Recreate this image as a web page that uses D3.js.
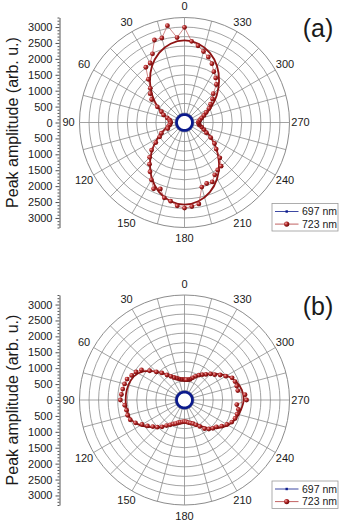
<!DOCTYPE html>
<html>
<head>
<meta charset="utf-8">
<script src="https://cdn.jsdelivr.net/npm/d3@7"></script>
<style>
  body { margin: 0; background: #fff; }
  text { font-family: "Liberation Sans", Arial, sans-serif; fill: #1a1a1a; }
</style>
</head>
<body>
<div id="chart"></div>
<script>
// measurement angles (deg, counter-clockwise from top)
var angles = [0, 5, 10, 15, 20, 25, 30, 35, 40, 45, 50, 55, 60, 65, 70, 75, 80, 85,
  90, 95, 100, 105, 110, 115, 120, 125, 130, 135, 140, 145, 150, 155, 160, 165, 170, 175,
  180, 185, 190, 195, 200, 205, 210, 215, 220, 225, 230, 235, 240, 245, 250, 255, 260, 265,
  270, 275, 280, 285, 290, 295, 300, 305, 310, 315, 320, 325, 330, 335, 340, 345, 350, 355];

// fit curve angles
var fitAngles = [0, 10, 20, 30, 40, 50, 60, 70, 80, 90, 100, 110, 120, 130, 140, 150, 160, 170,
  180, 190, 200, 210, 220, 230, 240, 250, 260, 270, 280, 290, 300, 310, 320, 330, 340, 350];

// (a) 723 nm peak amplitude
var amp723a = [2990, 2680, 3090, 2750, 2760, 2380, 2160, 2120, 1770, 1520, 1410, 1260, 985, 800, 700, 560, 480, 450,
  430, 450, 480, 540, 560, 800, 900, 1100, 1350, 1550, 1710, 1890, 2080, 2300, 2220, 2450, 2510, 2630,
  2690, 2650, 2600, 2100, 2040, 2060, 1900, 1820, 1790, 1570, 1300, 1150, 950, 760, 650, 560, 480, 450,
  430, 460, 500, 560, 650, 750, 890, 1000, 1150, 1280, 1560, 1710, 1845, 2040, 2190, 2310, 2450, 2560];
var fit723a = [2580, 2515, 2330, 2045, 1690, 1320, 970, 680, 495, 430, 495, 680, 970, 1320, 1690, 2045, 2330, 2515,
  2580, 2515, 2330, 2045, 1690, 1320, 970, 680, 495, 430, 495, 680, 970, 1320, 1690, 2045, 2330, 2515];
// (a) 697 nm peak amplitude
var amp697a = [250, 250, 251, 250, 249, 250, 251, 250, 250, 249, 250, 250, 251, 250, 250, 249, 250, 250,
  250, 251, 250, 250, 249, 250, 250, 251, 250, 250, 250, 249, 250, 251, 250, 250, 250, 249,
  250, 250, 251, 250, 250, 249, 250, 250, 251, 250, 250, 250, 249, 250, 251, 250, 250, 250,
  250, 249, 250, 251, 250, 250, 250, 249, 250, 250, 251, 250, 250, 249, 250, 250, 251, 250];

// (b) 723 nm peak amplitude
var amp723b = [640, 650, 660, 690, 730, 780, 860, 960, 1110, 1250, 1430, 1650, 1760, 1830, 1920, 1950, 1970, 1990,
  2015, 1885, 1850, 1850, 1815, 1700, 1540, 1420, 1300, 1210, 1100, 980, 900, 830, 790, 740, 710, 690,
  680, 690, 720, 750, 790, 860, 960, 1100, 1190, 1260, 1310, 1430, 1540, 1640, 1690, 1710, 1720, 1650,
  1950, 1910, 1700, 1700, 1690, 1650, 1500, 1370, 1240, 1160, 1050, 970, 900, 820, 740, 670, 650, 640];
var fit723b = [640, 670, 740, 880, 1100, 1420, 1680, 1800, 1840, 1850, 1840, 1790, 1600, 1330, 1100, 900, 770, 700,
  680, 700, 780, 930, 1150, 1370, 1580, 1720, 1800, 1860, 1830, 1720, 1530, 1280, 1060, 880, 750, 670];
// (b) 697 nm peak amplitude
var amp697b = amp697a.slice();

// grid / axis values
var ringValues = [300, 600, 900, 1200, 1500, 1800, 2100, 2400, 2700, 3000, 3300];
var spokeAngles = [0, 15, 30, 45, 60, 75, 90, 105, 120, 135, 150, 165, 180, 195, 210, 225, 240, 255, 270, 285, 300, 315, 330, 345];
var angleLabels = [0, 30, 60, 90, 120, 150, 180, 210, 240, 270, 300, 330];
var ampTicks = [-3000, -2500, -2000, -1500, -1000, -500, 0, 500, 1000, 1500, 2000, 2500, 3000];
var ampMinor = [-3300, -3200, -3100, -2900, -2800, -2700, -2600, -2400, -2300, -2200, -2100, -1900, -1800, -1700, -1600,
  -1400, -1300, -1200, -1100, -900, -800, -700, -600, -400, -300, -200, -100,
  100, 200, 300, 400, 600, 700, 800, 900, 1100, 1200, 1300, 1400, 1600, 1700, 1800, 1900,
  2100, 2200, 2300, 2400, 2600, 2700, 2800, 2900, 3100, 3200, 3300];
var seriesNames = ["697 nm", "723 nm"];

var width = 344, height = 522;
var cx = 184.5, R = 105, maxVal = 3300;
var darkRed = "#8e1414", navy = "#0b1a8c", gridCol = "#8c8c8c";

var svg = d3.select("#chart").append("svg")
  .attr("width", width).attr("height", height);

var defs = svg.append("defs");
var grad = defs.append("radialGradient").attr("id", "ball")
  .attr("cx", "35%").attr("cy", "35%").attr("r", "65%");
grad.append("stop").attr("offset", "0%").attr("stop-color", "#f0b0b0");
grad.append("stop").attr("offset", "45%").attr("stop-color", "#b52a2a");
grad.append("stop").attr("offset", "100%").attr("stop-color", "#6e0808");

var rScale = d3.scaleLinear().domain([0, maxVal]).range([0, R]);
var rad = d => d * Math.PI / 180;

function drawPlot(cy, a723, fit723, a697, tag) {
  var g = svg.append("g").attr("transform", `translate(${cx},${cy})`);

  // rings
  g.selectAll(".ring").data(ringValues).enter().append("circle")
    .attr("r", d => rScale(d))
    .attr("fill", "none")
    .attr("stroke", gridCol)
    .attr("stroke-width", (d, i) => i == ringValues.length - 1 ? 1 : 0.8);

  // spokes
  g.selectAll(".spoke").data(spokeAngles).enter().append("line")
    .attr("x1", 0).attr("y1", 0)
    .attr("x2", d => -rScale(maxVal) * Math.sin(rad(d)))
    .attr("y2", d => -rScale(maxVal) * Math.cos(rad(d)))
    .attr("stroke", gridCol)
    .attr("stroke-width", 0.8);

  // angle labels
  g.selectAll(".alab").data(angleLabels).enter().append("text")
    .attr("x", d => -(R + 11) * Math.sin(rad(d)))
    .attr("y", d => -(R + 11) * Math.cos(rad(d)))
    .attr("dy", "0.35em")
    .attr("text-anchor", "middle")
    .style("font-size", "11px")
    .text(d => d);

  var radial = d3.lineRadial()
    .angle(d => -rad(d[0]))
    .radius(d => rScale(d[1]));

  // fit curve
  g.append("path")
    .datum(d3.zip(fitAngles, fit723))
    .attr("d", radial.curve(d3.curveCardinalClosed))
    .attr("fill", "none")
    .attr("stroke", darkRed)
    .attr("stroke-width", 1.8);

  // data line
  var pts = d3.zip(angles, a723);
  g.append("path")
    .datum(pts)
    .attr("d", radial.curve(d3.curveLinearClosed))
    .attr("fill", "none")
    .attr("stroke", "#b23a3a")
    .attr("stroke-width", 0.6);

  g.selectAll(".dot").data(pts).enter().append("circle")
    .attr("cx", d => -rScale(d[1]) * Math.sin(rad(d[0])))
    .attr("cy", d => -rScale(d[1]) * Math.cos(rad(d[0])))
    .attr("r", 2.4)
    .attr("fill", "url(#ball)");

  // 697 nm
  g.append("path")
    .datum(d3.zip(angles, a697))
    .attr("d", radial.curve(d3.curveCardinalClosed))
    .attr("fill", "#fff")
    .attr("stroke", navy)
    .attr("stroke-width", 2.8);

  // amplitude axis on the left
  var yScale = d3.scaleLinear().domain([-maxVal, maxVal]).range([R, -R]);
  var axisX = 59.5 - cx;
  g.append("g")
    .attr("transform", `translate(${axisX},0)`)
    .call(d3.axisLeft(yScale).tickValues(ampMinor).tickSize(2).tickFormat(""))
    .call(ax => ax.select(".domain").remove())
    .selectAll("line").attr("stroke", "#555");
  var yAx = g.append("g")
    .attr("transform", `translate(${axisX},0)`)
    .call(d3.axisLeft(yScale).tickValues(ampTicks).tickSize(4).tickPadding(3)
      .tickSizeOuter(0).tickFormat(d => Math.abs(d)));
  yAx.select(".domain").attr("stroke", "#555");
  yAx.selectAll("line").attr("stroke", "#555");
  yAx.selectAll("text")
    .style("font-size", "11px")
    .style("font-family", '"Liberation Sans", Arial, sans-serif')
    .attr("fill", "#1a1a1a");

  g.append("text")
    .attr("transform", `translate(${12.5 - cx},0) rotate(-90)`)
    .attr("text-anchor", "middle")
    .attr("dy", "0.35em")
    .style("font-size", "16px")
    .text("Peak amplitude (arb. u.)");

  // panel tag
  g.append("text")
    .attr("x", 318 - cx).attr("y", -85.5)
    .attr("text-anchor", "middle")
    .style("font-size", "25px")
    .text(tag);

  // legend
  var lg = g.append("g").attr("transform", `translate(${272 - cx},81)`);
  lg.append("rect")
    .attr("width", 66).attr("height", 27.5)
    .attr("fill", "#fff").attr("stroke", "#999").attr("stroke-width", 0.8);
  var rows = lg.selectAll(".row").data(seriesNames).enter().append("g")
    .attr("transform", (d, i) => `translate(0,${8 + i * 12.6})`);
  rows.append("line")
    .attr("x1", 3).attr("x2", 26.5).attr("y1", 0).attr("y2", 0)
    .attr("stroke", (d, i) => i == 0 ? navy : "#b23a3a")
    .attr("stroke-width", 0.8);
  rows.filter((d, i) => i == 0).append("rect")
    .attr("x", 13.5).attr("y", -1.2).attr("width", 2.4).attr("height", 2.4)
    .attr("fill", navy);
  rows.filter((d, i) => i == 1).append("circle")
    .attr("cx", 14.7).attr("cy", 0).attr("r", 2.6)
    .attr("fill", "url(#ball)");
  rows.append("text")
    .attr("x", 30).attr("dy", "0.35em")
    .style("font-size", "10.5px")
    .text(d => d);
}

drawPlot(122.5, amp723a, fit723a, amp697a, "(a)");
drawPlot(400, amp723b, fit723b, amp697b, "(b)");
</script>
</body>
</html>
